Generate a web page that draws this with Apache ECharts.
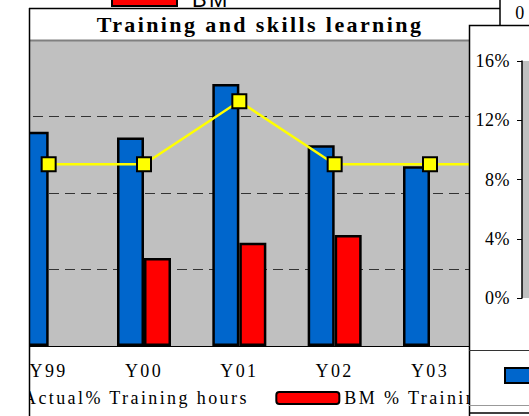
<!DOCTYPE html>
<html>
<head>
<meta charset="utf-8">
<script src="https://cdn.jsdelivr.net/npm/echarts@6/dist/echarts.min.js"></script>
<style>
  html, body { margin: 0; padding: 0; background: #fff; }
  #chart { width: 529px; height: 416px; }
  /* spaced-out lettering, like the old Excel export */
  #chart text { letter-spacing: 2.4px; }
  #chart text[text-anchor="end"] { letter-spacing: 0.5px; }
</style>
</head>
<body>
<div id="chart"></div>
<script>
// values, in %
var categories = ['Y99', 'Y00', 'Y01', 'Y02', 'Y03', 'Y04'];
var actualHours = [11.2, 10.9, 13.7, 10.5, 9.4, null];
var bmHours = [null, 4.6, 5.4, 5.8, null, null];
var targetHours = [9.5, 9.5, 12.8, 9.5, 9.5, 9.5];
var pctMax = 16;
var pctStep = 4;

var serif = 'Liberation Serif';

var myChart = echarts.init(document.getElementById('chart'), null, { renderer: 'svg' });

var option = {
  backgroundColor: '#fff',
  animation: false,
  title: {
    text: 'Training and skills learning',
    left: 260,
    top: 13,
    textAlign: 'center',
    padding: 0,
    textStyle: { fontFamily: serif, fontWeight: 'bold', fontSize: 22, color: '#000' }
  },
  legend: {
    data: ['Actual% Training hours', 'BM % Training hours'],
    left: -46,
    top: 389,
    padding: 0,
    itemWidth: 63,
    itemHeight: 12,
    itemGap: 79,
    textStyle: { fontFamily: serif, fontSize: 18, color: '#000' }
  },
  grid: [
    // main chart (runs past the right edge, hidden by the next window)
    { left: 1, top: 40, width: 572, height: 306, outerBoundsMode: 'none', show: true, backgroundColor: '#C0C0C0', borderWidth: 0 },
    // the window lying over it on the right
    { left: 522, top: 61, width: 30, height: 237, outerBoundsMode: 'none', show: true, backgroundColor: '#C0C0C0', borderWidth: 0, z: 11 }
  ],
  xAxis: [
    {
      type: 'category',
      gridIndex: 0,
      data: categories,
      axisLine: { lineStyle: { color: '#000', width: 1 } },
      axisTick: { length: 4, lineStyle: { color: '#000' } },
      axisLabel: { margin: 16, fontFamily: serif, fontSize: 18, color: '#000', showMaxLabel: false }
    },
    { type: 'value', gridIndex: 1, show: false }
  ],
  yAxis: [
    {
      type: 'value',
      gridIndex: 0,
      min: 0,
      max: pctMax,
      interval: pctStep,
      axisLine: { show: false },
      axisTick: { show: false },
      axisLabel: { show: false },
      splitLine: { lineStyle: { color: '#333', type: [10, 6], width: 1 } }
    },
    {
      type: 'value',
      gridIndex: 1,
      min: 0,
      max: pctMax,
      interval: pctStep,
      z: 12,
      axisLine: { show: true, lineStyle: { color: '#000', width: 1.5 } },
      axisTick: { show: true, length: 5, lineStyle: { color: '#000' } },
      axisLabel: { margin: 12, fontFamily: serif, fontSize: 18, color: '#000', formatter: '{value}%' },
      splitLine: { show: false }
    }
  ],
  series: [
    {
      name: 'Actual% Training hours',
      type: 'bar',
      xAxisIndex: 0,
      yAxisIndex: 0,
      data: actualHours,
      barWidth: 27,
      barGap: '0%',
      itemStyle: { color: '#0066CC', borderColor: '#000', borderWidth: 2.5 }
    },
    {
      name: 'BM % Training hours',
      type: 'bar',
      xAxisIndex: 0,
      yAxisIndex: 0,
      data: bmHours,
      barWidth: 27,
      itemStyle: { color: '#FF0000', borderColor: '#000', borderWidth: 2.5 }
    },
    {
      name: 'Target % Training hours',
      type: 'line',
      xAxisIndex: 0,
      yAxisIndex: 0,
      data: targetHours,
      symbol: 'rect',
      symbolSize: 14,
      z: 5,
      lineStyle: { color: '#FFFF00', width: 2.5 },
      itemStyle: { color: '#FFFF00', borderColor: '#000', borderWidth: 2 }
    }
  ],
  graphic: [
    // window frames and bits of the charts behind
    { type: 'rect', z: 10, shape: { x: 0, y: 0, width: 29, height: 416 }, style: { fill: '#fff' } },
    { type: 'line', z: 10, shape: { x1: 29, y1: 40.5, x2: 469, y2: 40.5 }, style: { stroke: '#808080', lineWidth: 2 } },
    { type: 'line', z: 10, shape: { x1: 29.5, y1: 8, x2: 29.5, y2: 416 }, style: { stroke: '#000', lineWidth: 1.5 } },
    { type: 'line', z: 10, shape: { x1: 29, y1: 8.5, x2: 500, y2: 8.5 }, style: { stroke: '#000', lineWidth: 1.5 } },
    { type: 'line', z: 10, shape: { x1: 500, y1: 0, x2: 500, y2: 25 }, style: { stroke: '#000', lineWidth: 1.5 } },
    { type: 'rect', z: 10, shape: { x: 112, y: -5, width: 65, height: 11 }, style: { fill: '#FF0000', stroke: '#000', lineWidth: 2 } },
    { type: 'text', z: 10, x: 192, y: -1, style: { text: 'BM', fontFamily: 'Liberation Sans', fontSize: 22, fill: '#000', verticalAlign: 'middle' } },
    { type: 'text', z: 10, x: 521, y: 12.5, style: { text: '0', fontFamily: serif, fontSize: 18, fill: '#000', align: 'center', verticalAlign: 'middle' } },
    { type: 'rect', z: 10, shape: { x: 469.5, y: 25.5, width: 70, height: 400 }, style: { fill: '#fff', stroke: '#000', lineWidth: 1.5 } },
    { type: 'line', z: 12, shape: { x1: 469, y1: 350.5, x2: 529, y2: 350.5 }, style: { stroke: '#333', lineWidth: 1 } },
    { type: 'rect', z: 12, shape: { x: 505, y: 368, width: 30, height: 15 }, style: { fill: '#0066CC', stroke: '#000', lineWidth: 2 } },
    { type: 'line', z: 12, shape: { x1: 469, y1: 405.5, x2: 529, y2: 405.5 }, style: { stroke: '#999', lineWidth: 1 } },
    { type: 'line', z: 12, shape: { x1: 469, y1: 413, x2: 529, y2: 413 }, style: { stroke: '#000', lineWidth: 1.5 } }
  ]
};

myChart.setOption(option);
</script>
</body>
</html>
